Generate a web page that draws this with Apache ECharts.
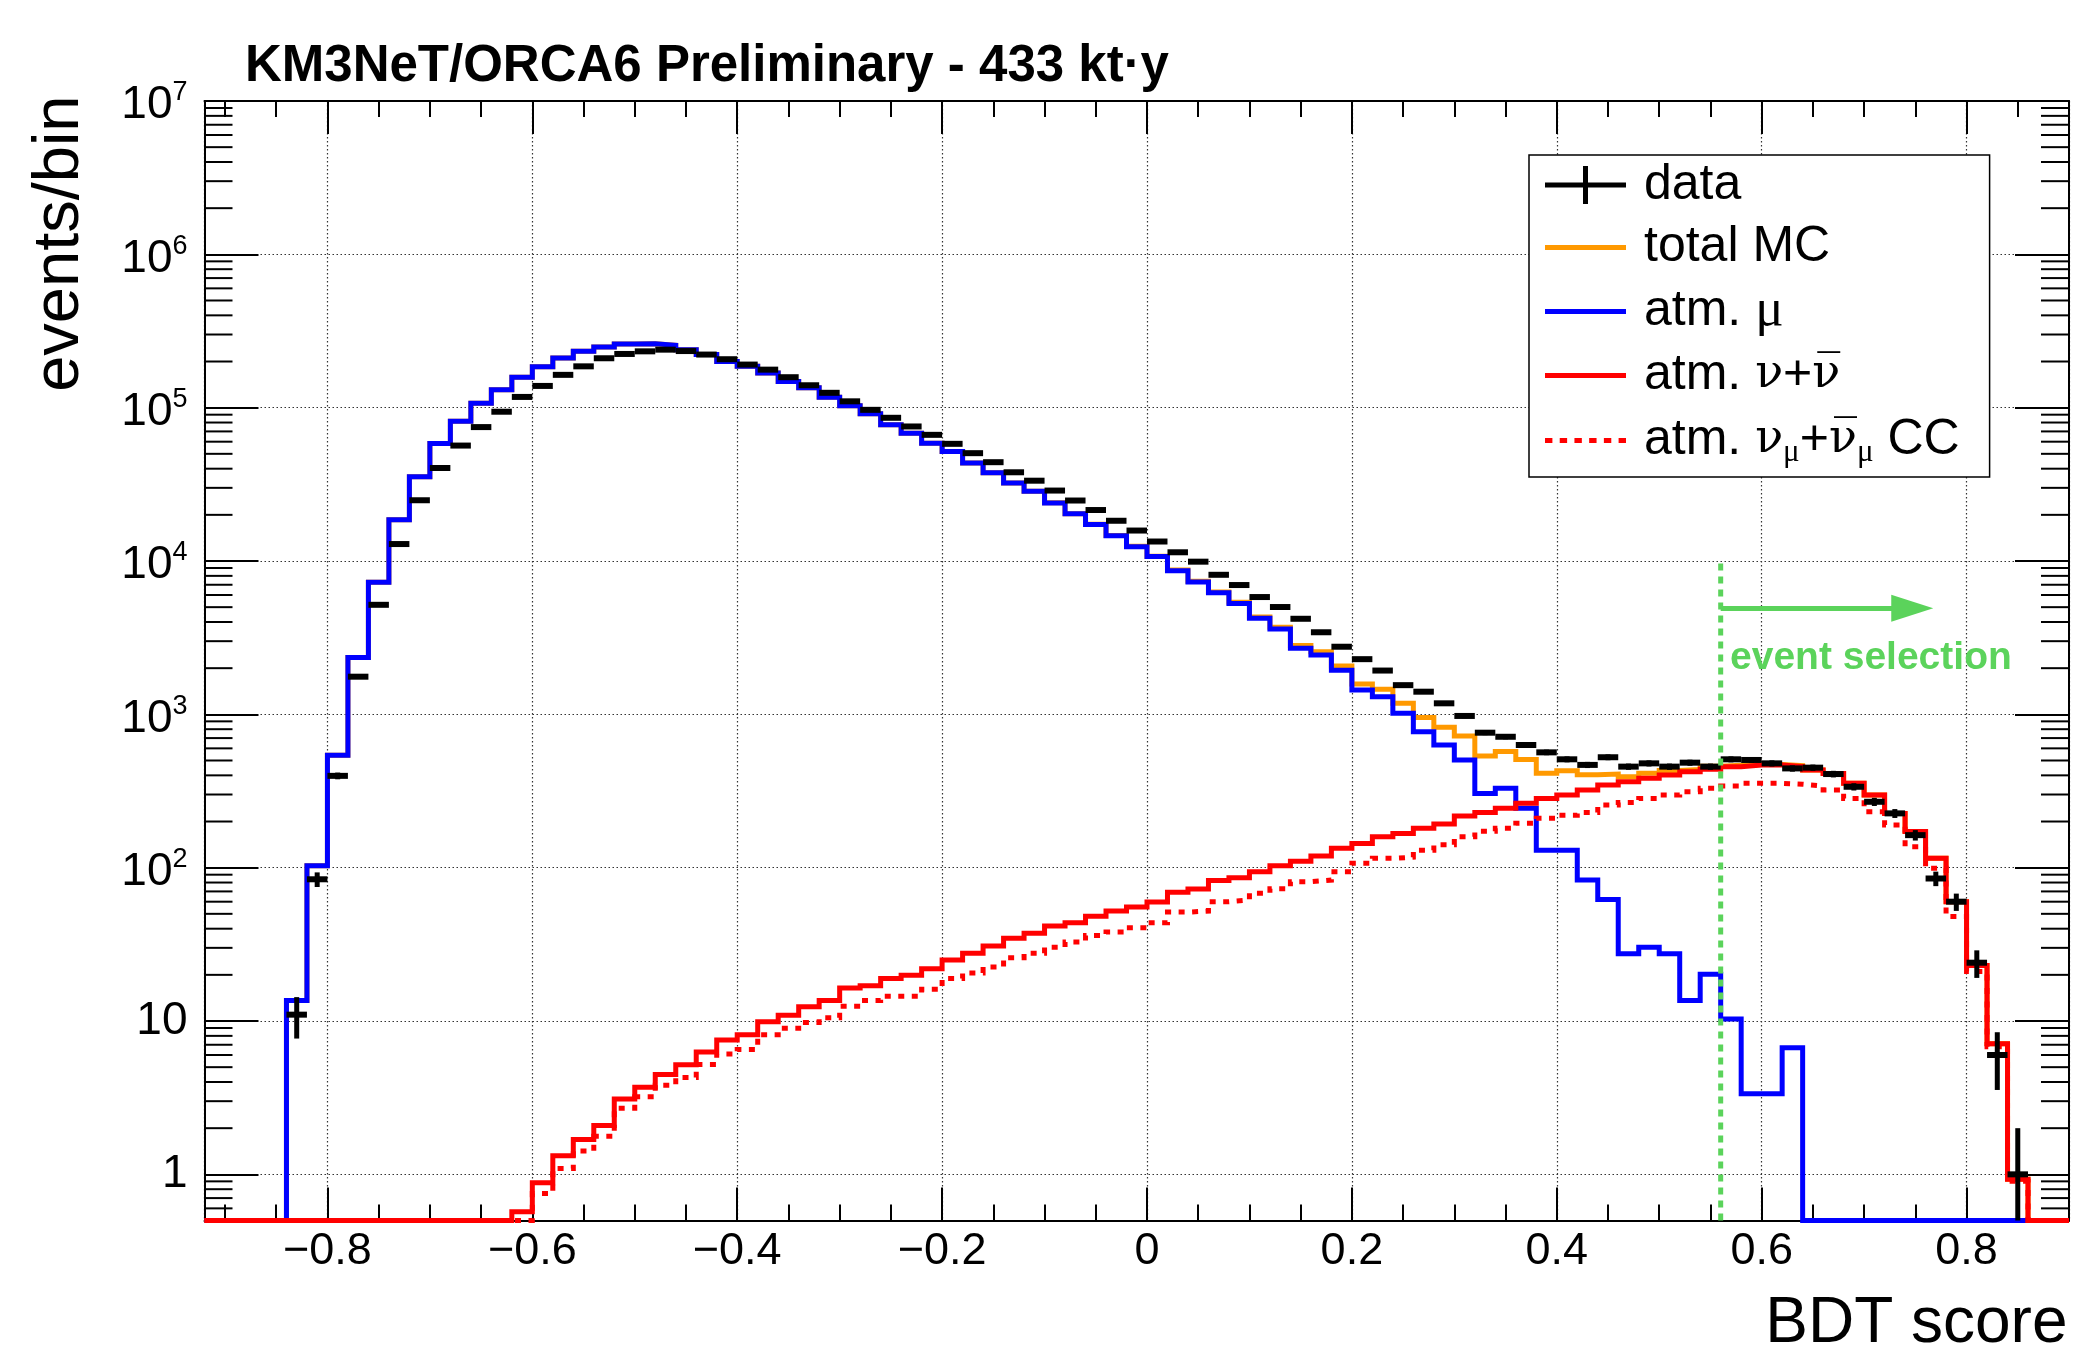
<!DOCTYPE html>
<html>
<head>
<meta charset="utf-8">
<script src="https://cdn.jsdelivr.net/npm/echarts@6/dist/echarts.min.js"></script>
<style>
html,body{margin:0;padding:0;background:#fff;}
#chart{width:2080px;height:1349px;}
</style>
</head>
<body>
<div id="chart"></div>
<script>
// ---------------- data ----------------
// histogram binning: 91 bins of width 0.02 starting at -0.92
const BIN_START = -0.92;
const BIN_WIDTH = 0.02;
const X_MIN = -0.92, X_MAX = 0.90;
const Y_MIN = 0.5, Y_MAX = 1e7;

// atm. mu (blue)
const atmMu = [
  0, 0, 0, 0, 13.6, 103, 541, 2350, 7260, 18600,
  35400, 58300, 81500, 107000, 131000, 158000, 185000, 211000, 233000, 249000,
  260000, 261000, 255000, 239000, 222000, 200000, 186000, 168000, 148000, 135000,
  117000, 103000, 91200, 77300, 68200, 58700, 51700, 43600, 37600, 32300,
  28500, 23900, 20300, 17300, 14600, 12400, 10700, 8650, 7300, 6200,
  5290, 4230, 3600, 2700, 2440, 1940, 1440, 1300, 1016, 771,
  631, 504, 305, 329, 244, 130, 130, 83, 62, 27.5,
  30.3, 27.5, 13.6, 20.2, 10.3, 3.35, 3.35, 6.7, 0, 0,
  0, 0, 0, 0, 0, 0, 0, 0, 0, 0, 0
];
// atm. nu + nubar (red solid)
const atmNu = [
  0, 0, 0, 0, 0, 0, 0, 0, 0, 0,
  0, 0, 0, 0, 0, 0.57, 0.88, 1.32, 1.69, 2.08,
  3.10, 3.70, 4.48, 5.18, 6.27, 7.53, 8.15, 9.9, 10.9, 12.4,
  13.6, 16.4, 17.0, 18.9, 19.9, 21.9, 25.0, 27.7, 30.8, 34.6,
  37.4, 41.6, 43.8, 48.2, 52.1, 55.5, 59.7, 69.2, 72.5, 82.5,
  86, 94, 103, 110, 119, 134, 144, 159, 167, 181,
  193, 217, 229, 244, 263, 283, 298, 321, 346, 364,
  383, 402, 423, 438, 456, 467, 467, 456, 433, 412,
  355, 298, 226, 172, 115, 60, 23, 7.1, 0.93, 0, 0
];
// atm. numu + numubar CC (red dotted)
const atmNuMuCC = [
  0, 0, 0, 0, 0, 0, 0, 0, 0, 0,
  0, 0, 0, 0, 0, 0, 0.75, 1.09, 1.42, 1.77,
  2.70, 3.21, 3.81, 4.28, 5.21, 6.10, 6.53, 8.15, 8.96, 9.79,
  10.5, 12.5, 13.6, 14.5, 14.5, 16.1, 18.9, 20.6, 22.5, 25.9,
  27.7, 30.3, 32.8, 36.1, 38.0, 40.5, 43.8, 51.3, 52.1, 60,
  61.5, 68, 73, 81, 83, 94, 107, 115, 117, 130,
  141, 159, 173, 181, 195, 210, 220, 229, 256, 266,
  283, 298, 313, 329, 341, 355, 355, 350, 341, 321,
  283, 232, 190, 137, 99, 48, 21, 6.8, 0.9, 0, 0
];
// total MC (orange)
const totalMC = [
  0, 0, 0, 0, 13.6, 103, 541, 2350, 7260, 18600,
  35400, 58300, 81500, 107000, 131000, 158000, 185000, 211000, 233000, 249000,
  260000, 261000, 255000, 239000, 222000, 200000, 186000, 168000, 148000, 135000,
  117000, 103000, 91200, 77300, 68200, 58700, 51700, 43600, 37600, 32300,
  28540, 23940, 20340, 17350, 14650, 12460, 10760, 8720, 7370, 6280,
  5380, 4320, 3700, 2810, 2560, 2070, 1580, 1460, 1180, 952,
  824, 721, 534, 573, 507, 413, 428, 404, 408, 392,
  413, 430, 437, 458, 466, 470, 470, 463, 433, 412,
  355, 298, 226, 172, 115, 60, 23, 7.1, 0.93, 0, 0
];
// data (counts per bin, null = no point)
const dataCounts = [
  null, null, null, null, 11, 84, 397, 1760, 5180, 12900,
  24900, 40400, 56600, 74700, 94100, 117500, 138600, 163700, 186000, 210000,
  224000, 233000, 239000, 234000, 222000, 207000, 191000, 177000, 158000, 140000,
  125000, 110000, 96800, 85900, 75400, 66500, 58100, 50500, 44100, 37900,
  33400, 28800, 24800, 21500, 18300, 15800, 13400, 11400, 9900, 8130,
  6970, 5820, 5010, 4200, 3430, 2760, 2290, 1930, 1550, 1405,
  1180, 976, 759, 714, 631, 565, 509, 468, 525, 456,
  479, 456, 484, 456, 509, 504, 479, 444, 449, 408,
  337, 269, 226, 163, 85, 60, 24, 6, 1, null, null
];
// event selection annotation
const cutValue = 0.56;
const cutLineTop = 1e4;
const arrowLevel = 4920;
const arrowHeadCenter = 0.747;

const seriesNames = ['data', 'total MC', 'atm. μ', 'atm. ν+ν̄', 'atm. νμ+ν̄μ CC'];

// ---------------- helpers ----------------
const SANS = '"Liberation Sans", Arial, Helvetica, sans-serif';
const SERIF = '"Liberation Serif", "Times New Roman", serif';
const SERIF_MARK = '"DejaVu Serif", "Liberation Serif", serif';
const GREEN = '#5bd35b';

function edgeOf(i) { return +(BIN_START + BIN_WIDTH * i).toFixed(4); }
function stepData(values) {
  const pts = values.map((v, i) => [edgeOf(i), v > 0 ? v : Y_MIN]);
  const last = values[values.length - 1];
  pts.push([X_MAX, last > 0 ? last : Y_MIN]);
  return pts;
}
function pointData(values) {
  const out = [];
  values.forEach((v, i) => { if (v != null) out.push([+(edgeOf(i) + BIN_WIDTH / 2).toFixed(4), v]); });
  return out;
}
function hist(name, values, color, dash, z) {
  return {
    name: name, type: 'line', data: stepData(values), step: 'end',
    symbol: 'none', showSymbol: false, clip: false, animation: false, silent: true, z: z,
    itemStyle: { color: color },
    lineStyle: { color: color, width: 5, type: dash || 'solid', cap: 'butt', join: 'miter' },
    emphasis: { disabled: true }
  };
}

const yMinorTicks = [];
for (let n = -1; n < 7; n++) {
  for (let k = 2; k <= 9; k++) {
    const v = +(k * Math.pow(10, n)).toPrecision(3);
    if (v > Y_MIN && v < Y_MAX) yMinorTicks.push(v);
  }
}

const chart = echarts.init(document.getElementById('chart'), null, { renderer: 'canvas', width: 2080, height: 1349 });

const gridLine = { show: true, lineStyle: { color: '#333', width: 1.2, type: [1.5, 2.5] } };
const axisLineStyle = { show: true, onZero: false, lineStyle: { color: '#000', width: 2 } };

const legendText = {
  'data': '{t|data}',
  'total MC': '{t|total MC}',
  'atm. μ': '{t|atm. }{g|μ}',
  'atm. ν+ν̄': '{t|atm. }{gb|ν}{t|+}{gb|ν\u0305}',
  'atm. νμ+ν̄μ CC': '{t|atm. }{gb|ν}{sub|μ}{t|+}{gb|ν\u0305}{sub|μ}{t| CC}'
};

const option = {
  animation: false,
  backgroundColor: '#fff',
  title: {
    text: 'KM3NeT/ORCA6 Preliminary - 433 kt·y',
    left: 245, top: 41, padding: 0,
    textStyle: { fontFamily: SANS, fontSize: 51, fontWeight: 'bold', color: '#000', lineHeight: 51 }
  },
  grid: { left: 204.5, right: 11, top: 101, bottom: 128.5, containLabel: false, outerBoundsMode: 'none' },
  xAxis: [
    {
      type: 'value', min: X_MIN, max: X_MAX, splitNumber: 9, position: 'bottom',
      axisLine: axisLineStyle,
      axisTick: { show: true, inside: true, length: 33, lineStyle: { color: '#000', width: 2 } },
      minorTick: { show: true, splitNumber: 4, length: 16, lineStyle: { color: '#000', width: 2 } },
      splitLine: gridLine,
      axisLabel: {
        show: true, margin: 9, showMinLabel: false, showMaxLabel: false, hideOverlap: false,
        fontFamily: SANS, fontSize: 45, color: '#000',
        formatter: function (v) {
          if (Math.abs(v) < 1e-9) return '0';
          return (v < 0 ? '\u2212' : '') + Math.abs(v).toFixed(1);
        }
      }
    },
    {
      type: 'value', min: X_MIN, max: X_MAX, splitNumber: 9, position: 'top',
      axisLine: axisLineStyle,
      axisTick: { show: true, inside: true, length: 33, lineStyle: { color: '#000', width: 2 } },
      minorTick: { show: true, splitNumber: 4, length: 16, lineStyle: { color: '#000', width: 2 } },
      splitLine: { show: false }, axisLabel: { show: false }
    }
  ],
  yAxis: [
    {
      type: 'log', logBase: 10, min: Y_MIN, max: Y_MAX, position: 'left',
      axisLine: axisLineStyle,
      axisTick: { show: true, inside: true, length: 54, lineStyle: { color: '#000', width: 2 } },
      splitLine: gridLine,
      axisLabel: {
        show: true, margin: 17, showMinLabel: false, hideOverlap: false,
        formatter: function (v) {
          const n = Math.round(Math.log10(v));
          if (n === 0) return '{p|1}';
          if (n === 1) return '{p|10}';
          return '{b|10}{s|' + n + '}';
        },
        rich: {
          p: { fontFamily: SANS, fontSize: 46, color: '#000', lineHeight: 46 },
          b: { fontFamily: SANS, fontSize: 46, color: '#000', lineHeight: 46, padding: [9, 0, 0, 0] },
          s: { fontFamily: SANS, fontSize: 27, color: '#000', lineHeight: 27, padding: [0, 0, 16, 0] }
        }
      }
    },
    {
      type: 'log', logBase: 10, min: Y_MIN, max: Y_MAX, position: 'right',
      axisLine: axisLineStyle,
      axisTick: { show: true, inside: true, length: 54, lineStyle: { color: '#000', width: 2 } },
      splitLine: { show: false }, axisLabel: { show: false }
    }
  ],
  legend: {
    orient: 'vertical', left: 1529, top: 155,
    padding: [5, 30, 9, 16],
    itemWidth: 81, itemHeight: 38, itemGap: 12.5,
    backgroundColor: '#fff', borderColor: '#000', borderWidth: 1.5, borderRadius: 0,
    selectedMode: false, symbolKeepAspect: true,
    textStyle: {
      fontFamily: SANS, fontSize: 50, color: '#000', lineHeight: 50, padding: [0, 0, 0, 13],
      rich: {
        t: { fontFamily: SANS, fontSize: 50, color: '#000', lineHeight: 50 },
        g: { fontFamily: SERIF, fontSize: 53, color: '#000', lineHeight: 50 },
        gb: { fontFamily: SERIF_MARK, fontSize: 46, color: '#000', lineHeight: 50 },
        sub: { fontFamily: SERIF, fontSize: 31, color: '#000', lineHeight: 20, padding: [24, 0, 0, 0] }
      }
    },
    formatter: function (name) { return legendText[name]; },
    data: [
      { name: seriesNames[0], icon: 'path://M0,16.5h81v5h-81z M38,0h5v38h-5z', itemStyle: { color: '#000' } },
      { name: seriesNames[1], icon: 'path://M0,0h81v5h-81z', itemStyle: { color: '#ff9900' } },
      { name: seriesNames[2], icon: 'path://M0,0h81v5h-81z', itemStyle: { color: '#0000ff' } },
      { name: seriesNames[3], icon: 'path://M0,0h81v5h-81z', itemStyle: { color: '#ff0000' } },
      { name: seriesNames[4], icon: 'path://M0,0h7.4v5h-7.4z M14.72,0h7.4v5h-7.4z M29.44,0h7.4v5h-7.4z M44.16,0h7.4v5h-7.4z M58.88,0h7.4v5h-7.4z M73.6,0h7.4v5h-7.4z', itemStyle: { color: '#ff0000' } }
    ]
  },
  graphic: [
    {
      type: 'text', x: 60, y: 95.5, rotation: Math.PI / 2, silent: true,
      style: { text: 'events/bin', fontFamily: SANS, fontSize: 65, fill: '#000', align: 'right', verticalAlign: 'middle' }
    },
    {
      type: 'text', x: 2067.5, y: 1324, silent: true,
      style: { text: 'BDT score', fontFamily: SANS, fontSize: 64, fill: '#000', align: 'right', verticalAlign: 'middle' }
    },
    {
      type: 'text', x: 1730, y: 658, silent: true, z: 100,
      style: { text: 'event selection', fontFamily: SANS, fontSize: 39, fontWeight: 'bold', fill: GREEN, align: 'left', verticalAlign: 'middle' }
    }
  ],
  series: [
    {
      type: 'custom', name: 'yMinorTicks', silent: true, z: 1, clip: false, animation: false,
      data: yMinorTicks.map(v => [X_MIN, v]),
      renderItem: function (params, api) {
        const l = api.coord([X_MIN, api.value(1)]);
        const r = api.coord([X_MAX, api.value(1)]);
        return { type: 'group', children: [
          { type: 'line', shape: { x1: l[0], y1: l[1], x2: l[0] + 28, y2: l[1] }, style: { stroke: '#000', lineWidth: 2 } },
          { type: 'line', shape: { x1: r[0] - 28, y1: r[1], x2: r[0], y2: r[1] }, style: { stroke: '#000', lineWidth: 2 } }
        ] };
      }
    },
    hist(seriesNames[1], totalMC, '#ff9900', null, 2),
    hist(seriesNames[2], atmMu, '#0000ff', null, 3),
    hist(seriesNames[4], atmNuMuCC, '#ff0000', [6, 7.5], 4),
    hist(seriesNames[3], atmNu, '#ff0000', null, 5),
    {
      name: seriesNames[0], type: 'custom', z: 10, clip: false, animation: false, silent: true,
      itemStyle: { color: '#000' },
      data: pointData(dataCounts),
      renderItem: function (params, api) {
        const xc = api.value(0), v = api.value(1);
        const a = api.coord([xc - BIN_WIDTH / 2, v]);
        const b = api.coord([xc + BIN_WIDTH / 2, v]);
        const e = Math.sqrt(v);
        const lo = api.coord([xc, Math.max(v - e, Y_MIN)]);
        const hi = api.coord([xc, v + e]);
        return { type: 'group', children: [
          { type: 'line', shape: { x1: a[0], y1: a[1], x2: b[0], y2: b[1] }, style: { stroke: '#000', lineWidth: 6 } },
          { type: 'line', shape: { x1: lo[0], y1: lo[1], x2: hi[0], y2: hi[1] }, style: { stroke: '#000', lineWidth: 5 } }
        ] };
      }
    },
    {
      name: 'event selection', type: 'line', z: 20, clip: false, animation: false, silent: true,
      symbol: 'none', showSymbol: false,
      data: [[cutValue, Y_MIN], [cutValue, cutLineTop]],
      itemStyle: { color: GREEN },
      lineStyle: { color: GREEN, width: 5, type: [7, 6], cap: 'butt' },
      emphasis: { disabled: true },
      markLine: {
        silent: true, animation: false, z: 20,
        symbol: ['none', 'triangle'],
        label: { show: false },
        emphasis: { disabled: true },
        lineStyle: { color: GREEN, width: 5, type: 'solid' },
        data: [[
          { coord: [cutValue, arrowLevel], symbol: 'none' },
          { coord: [arrowHeadCenter, arrowLevel], symbol: 'triangle', symbolSize: [27, 42] }
        ]]
      }
    }
  ]
};
chart.setOption(option);
</script>
</body>
</html>
